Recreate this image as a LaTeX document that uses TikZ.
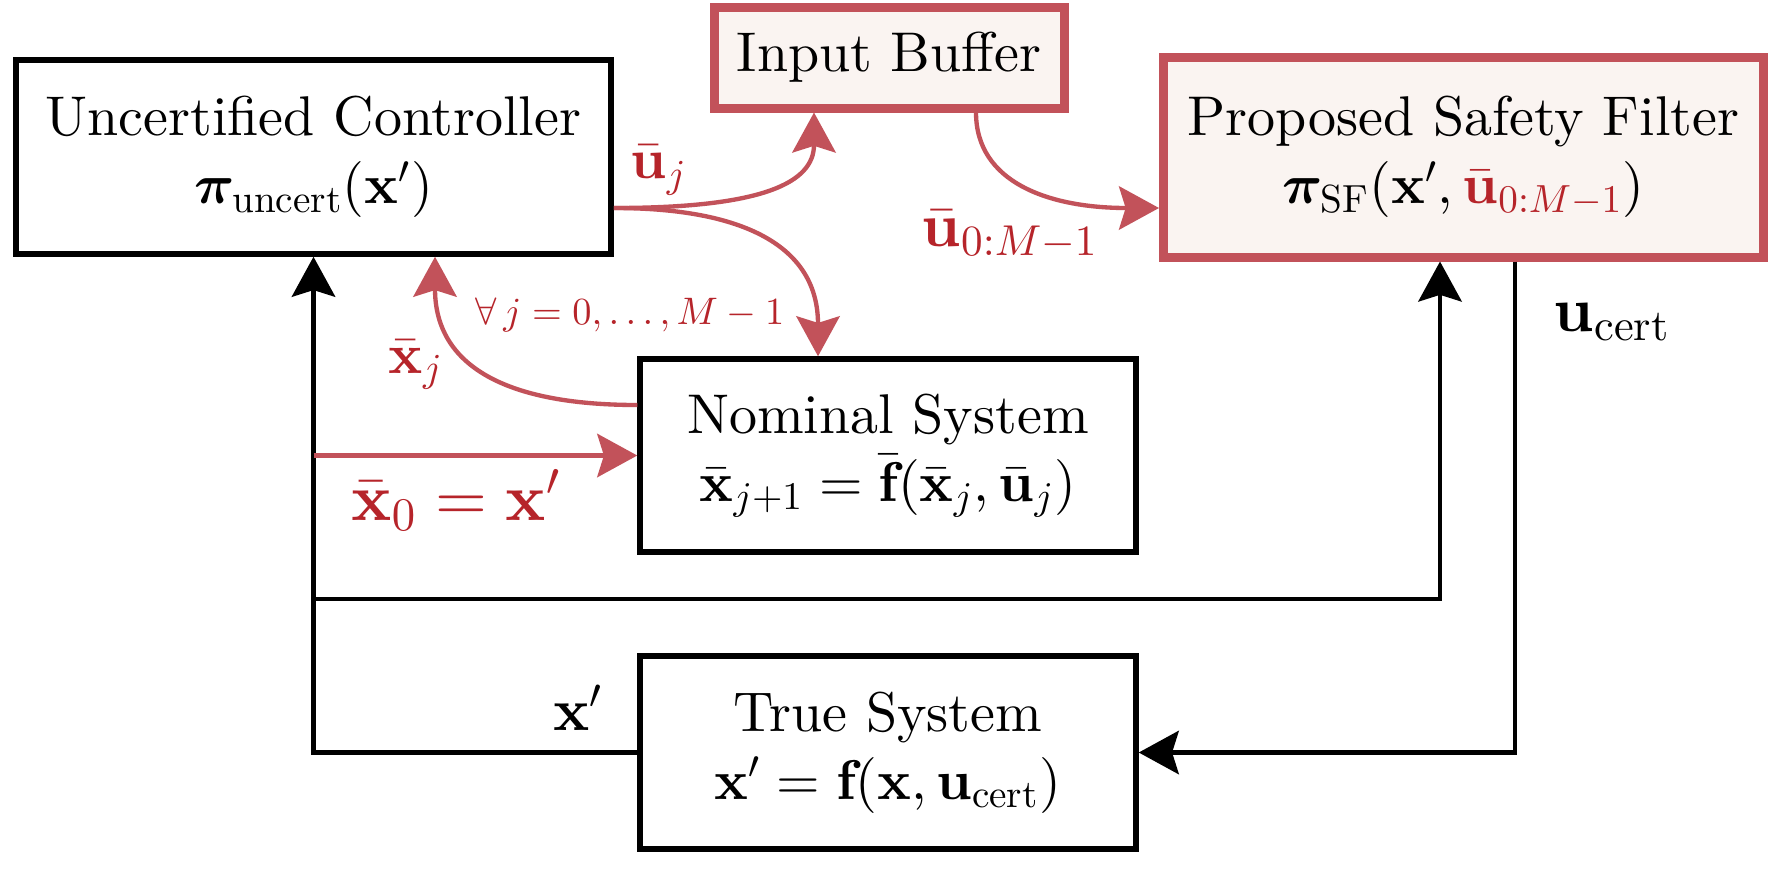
\documentclass[tikz,border=0pt]{standalone}
\usepackage{amsmath,bm}
\usepackage{fontspec}
\setmainfont{lmroman10-regular.otf}[BoldFont=lmroman10-bold.otf, ItalicFont=lmroman10-italic.otf, BoldItalicFont=lmroman10-bolditalic.otf]
\DeclareFontShape{OT1}{cmr}{m}{n}{<->cmr10}{}
\DeclareFontShape{OT1}{cmr}{bx}{n}{<->cmbx10}{}
\DeclareFontShape{OML}{cmm}{m}{it}{<->cmmi10}{\skewchar\font'177}
\DeclareFontShape{OML}{cmm}{b}{it}{<->cmmib10}{\skewchar\font'177}
\DeclareFontShape{OMS}{cmsy}{m}{n}{<->cmsy10}{\skewchar\font'60}
\DeclareFontShape{OMS}{cmsy}{b}{n}{<->cmbsy10}{\skewchar\font'60}
\DeclareFontShape{OMX}{cmex}{m}{n}{<->cmex10}{}
\usetikzlibrary{arrows.meta}
\definecolor{rl}{RGB}{194,82,90}
\definecolor{rt}{RGB}{182,36,42}
\definecolor{rf}{RGB}{250,244,241}
\tikzset{
 box/.style={draw=black, line width=1.65pt, fill=white, inner sep=0pt, align=center, font=\fontsize{16.8}{20.4}\selectfont},
 rbox/.style={box, draw=rl, line width=2.7pt, fill=rf},
 blk/.style={draw=black, line width=1.3pt},
 rln/.style={draw=rl, line width=1.3pt},
 tip/.style={-{Stealth[length=12pt,width=13pt,inset=2pt]}},
 lbl/.style={inner sep=0pt, text=rt},
 bl/.style={inner sep=0pt, text=black},
}
\begin{document}
\begin{tikzpicture}[x=0.3pt,y=-0.3pt]
\useasboundingbox[fill=white] (0,0) rectangle (1777,869);
\node[box, minimum width=178.5pt, minimum height=58.2pt] (ctrl) at (313.5,157) {Uncertified Controller\\$\bm{\pi}_{\text{uncert}}(\mathbf{x}')$};
\node[rbox, minimum width=105pt, minimum height=30.3pt] (ib) at (889,57.5) {Input Buffer};
\node[rbox, minimum width=180pt, minimum height=60pt] (sf) at (1463.5,157) {Proposed Safety Filter\\$\bm{\pi}_{\text{SF}}(\mathbf{x}',\textcolor{rt}{\bar{\mathbf{u}}_{0:M-1}})$};
\node[box, minimum width=148.8pt, minimum height=57.9pt] (nom) at (888,455.5) {Nominal System\\$\bar{\mathbf{x}}_{j+1}=\bar{\mathbf{f}}(\bar{\mathbf{x}}_j,\bar{\mathbf{u}}_j)$};
\node[box, minimum width=148.8pt, minimum height=57.9pt] (tru) at (888,752.5) {True System\\$\mathbf{x}'=\mathbf{f}(\mathbf{x},\mathbf{u}_{\text{cert}})$};

\coordinate (cu) at ([yshift=-15.3pt]ctrl.east);
\coordinate (ibin) at ([xshift=-22.5pt]ib.south);
\coordinate (nomin) at ([xshift=-21pt]nom.north);
\coordinate (nomout) at ([yshift=15.15pt]nom.west);
\coordinate (ctrlin) at ([xshift=36.45pt]ctrl.south);
\coordinate (ibout) at ([xshift=26.1pt]ib.south);
\coordinate (sfin) at ([yshift=-15.3pt]sf.west);
\coordinate (j1) at (313.5,599);
\coordinate (j2) at (1440,599);
\coordinate (j0) at (313.5,455.5);
\coordinate (uc) at (1515,600);

\draw[blk,tip] (tru.west) -| (ctrl.south);
\draw[blk,tip] (j1) -- (j2) -- (j2 |- sf.south);
\draw[blk,tip] (sf.south -| uc) |- (tru.east);
\draw[rln,tip] (j0) -- (nom.west);

\draw[rln,tip] (cu) .. controls +(150,0) and +(0,70) .. (ibin);
\draw[rln,tip] (cu) .. controls +(130,0) and +(0,-110) .. (nomin);
\draw[rln,tip] (nomout) .. controls +(-130,0) and +(0,110) .. (ctrlin);
\draw[rln,tip] (ibout) .. controls +(0,70) and +(-110,0) .. (sfin);

\node[lbl, font=\fontsize{17}{20}\selectfont] (luj) at (659,170) {$\bar{\mathbf{u}}_j$};
\node[lbl, font=\fontsize{11.5}{14}\selectfont] (lall) at (630,315) {$\forall\, j=0,\dots,M-1$};
\node[lbl, font=\fontsize{17}{20}\selectfont] (lxj) at (416,365) {$\bar{\mathbf{x}}_j$};
\node[lbl, font=\fontsize{20}{24}\selectfont] (lx0) at (456,500) {$\bar{\mathbf{x}}_0=\mathbf{x}'$};
\node[lbl, font=\fontsize{18.5}{22}\selectfont] (lu0) at (1010,235) {$\bar{\mathbf{u}}_{0:M-1}$};
\node[bl, font=\fontsize{19}{22}\selectfont] (luc) at (1612,322) {$\mathbf{u}_{\text{cert}}$};
\node[bl, font=\fontsize{18}{22}\selectfont] (lxp) at (578,708) {$\mathbf{x}'$};
\end{tikzpicture}
\end{document}
